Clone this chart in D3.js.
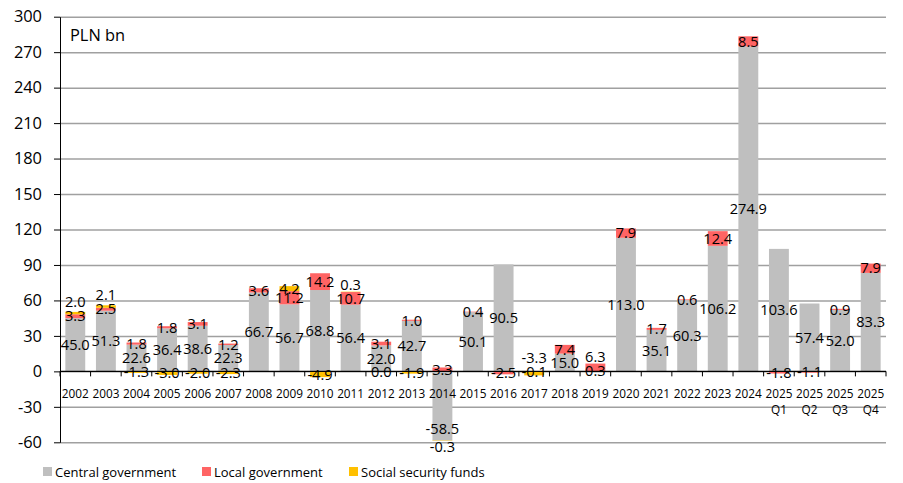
<!DOCTYPE html>
<html>
  <head>
    <meta charset="utf-8">
    <title>General government balance by subsector</title>
    <script src="https://d3js.org/d3.v7.min.js"></script>
    <style>
      body { margin: 0; background: #fff; }
      svg { display: block; font-family: "Open Sans", Lato, sans-serif; }
      .grid line { stroke: #a0a0a0; stroke-width: 1.5; }
      .grid path { display: none; }
      .yaxis path, .yaxis line { stroke: #000; }
      .yaxis text { font-size: 16.4px; fill: #000; font-family: "Open Sans", sans-serif; }
      .xlabel { font-size: 11.8px; fill: #000; }
      .value { font-size: 14.6px; fill: #000; }
      .legend text { font-size: 13px; fill: #000; }
    </style>
  </head>
  <body>
    <svg id="chart" width="903" height="483"></svg>
    <script>
      // data (PLN bn)
      const categories = ["2002", "2003", "2004", "2005", "2006", "2007", "2008", "2009", "2010", "2011",
        "2012", "2013", "2014", "2015", "2016", "2017", "2018", "2019", "2020", "2021", "2022", "2023",
        "2024", "2025 Q1", "2025 Q2", "2025 Q3", "2025 Q4"];
      const central = [45.0, 51.3, 22.6, 36.4, 38.6, 22.3, 66.7, 56.7, 68.8, 56.4,
        22.0, 42.7, -58.5, 50.1, 90.5, -0.1, 15.0, 0.3, 113.0, 35.1, 60.3, 106.2,
        274.9, 103.6, 57.4, 52.0, 83.3];
      const local = [3.3, 2.5, 1.8, 1.8, 3.1, 1.2, 3.6, 11.2, 14.2, 10.7,
        3.1, 1.0, 3.3, 0.4, -2.5, null, 7.4, 6.3, 7.9, 1.7, 0.6, 12.4,
        8.5, -1.8, -1.1, 0.9, 7.9];
      const social = [2.0, 2.1, -1.3, -3.0, -2.0, -2.3, null, 4.2, -4.9, 0.3,
        0.0, -1.9, -0.3, null, null, -3.3, null, null, null, null, null, null,
        null, null, null, null, null];
      const seriesNames = ["Central government", "Local government", "Social security funds"];
      const seriesColours = ["#bfbfbf", "#ff6464", "#ffc000"];
      const yTicks = [-60, -30, 0, 30, 60, 90, 120, 150, 180, 210, 240, 270, 300];

      const series = [central, local, social];
      const svg = d3.select("#chart");
      const plotLeft = 60, plotRight = 886, plotTop = 16.7, plotBottom = 442.3;

      // scales
      const x = d3.scaleBand()
        .domain(categories)
        .range([plotLeft, plotRight])
        .paddingInner(0.35)
        .paddingOuter(0.175);
      const y = d3.scaleLinear()
        .domain([yTicks[0], yTicks[yTicks.length - 1]])
        .range([plotBottom, plotTop]);
      const catLabelY = y(0) + 27;

      // gridlines
      svg.append("g")
        .attr("class", "grid")
        .attr("transform", "translate(" + plotLeft + ",0)")
        .call(d3.axisLeft(y).tickValues(yTicks).tickSize(-(plotRight - plotLeft)).tickFormat(""));

      // stack: positives upward, zero and negatives downward (as the spreadsheet does)
      const segments = [];
      categories.forEach(function(cat, i) {
        let pos = 0, neg = 0;
        const placed = [];
        series.forEach(function(values, s) {
          const v = values[i];
          if (v === null) return;
          let y0, y1;
          const isNeg = !(v > 0);
          if (!isNeg) { y0 = pos; y1 = pos + v; pos = y1; }
          else { y0 = neg; y1 = neg + v; neg = y1; }
          let ly = y((y0 + y1) / 2);
          // keep deep negative labels off the category labels
          if (ly > catLabelY - 16 && ly < catLabelY + 16) ly = catLabelY + 30;
          // move a label clear of one it would sit on
          let moved = true;
          while (moved) {
            moved = false;
            placed.forEach(function(p) {
              const both = isNeg && p.neg;
              if (Math.abs(ly - p.y) < (both ? 14 : 8)) {
                ly = both && ly > p.y + 4 ? p.y + 18 : p.y - 14;
                moved = true;
              }
            });
          }
          placed.push({ y: ly, neg: isNeg });
          segments.push({ cat: cat, s: s, v: v, y0: y0, y1: y1, ly: ly });
        });
      });

      // bars
      svg.append("g")
        .selectAll("rect")
        .data(segments)
        .enter().append("rect")
          .attr("x", function(d) { return x(d.cat); })
          .attr("width", x.bandwidth())
          .attr("y", function(d) { return Math.min(y(d.y0), y(d.y1)); })
          .attr("height", function(d) { return Math.abs(y(d.y0) - y(d.y1)); })
          .attr("fill", function(d) { return seriesColours[d.s]; });

      // zero line with category separators
      const gap = (x.step() - x.bandwidth()) / 2;
      const bounds = categories.map(function(c) { return x(c) - gap; }).concat([plotRight]);
      const zero = svg.append("g");
      zero.append("line")
        .attr("x1", plotLeft).attr("x2", plotRight)
        .attr("y1", y(0)).attr("y2", y(0))
        .attr("stroke", "#000")
        .attr("stroke-width", 1.3);
      zero.selectAll(".sep")
        .data(bounds)
        .enter().append("line")
          .attr("x1", function(d) { return d; })
          .attr("x2", function(d) { return d; })
          .attr("y1", y(0)).attr("y2", y(0) + 5)
          .attr("stroke", "#000");

      // y axis
      svg.append("g")
        .attr("class", "yaxis")
        .attr("transform", "translate(" + plotLeft + ",0)")
        .call(d3.axisLeft(y).tickValues(yTicks).tickSize(6).tickSizeOuter(0).tickPadding(12)
          .tickFormat(function(d) { return String(d); }));

      // category labels, second line for the quarters
      const xl = svg.append("g")
        .selectAll("text")
        .data(categories)
        .enter().append("text")
          .attr("class", "xlabel")
          .attr("text-anchor", "middle")
          .attr("y", catLabelY);
      xl.selectAll("tspan")
        .data(function(d) { return d.split(" ").map(function(t) { return { t: t, c: d }; }); })
        .enter().append("tspan")
          .attr("x", function(d) { return x(d.c) + x.bandwidth() / 2; })
          .attr("dy", function(d, j) { return j ? 16 : 0; })
          .text(function(d) { return d.t; });

      // value labels
      svg.append("g")
        .selectAll("text")
        .data(segments)
        .enter().append("text")
          .attr("class", "value")
          .attr("text-anchor", "middle")
          .attr("x", function(d) { return x(d.cat) + x.bandwidth() / 2; })
          .attr("y", function(d) { return d.ly; })
          .attr("dy", "0.36em")
          .text(function(d) { return d.v.toFixed(1); });

      // unit
      svg.append("text")
        .attr("x", 70).attr("y", 41)
        .attr("font-size", "16.4px")
        .text("PLN bn");

      // legend
      const legendX = [43, 202, 349];
      const legend = svg.append("g")
        .attr("class", "legend")
        .selectAll("g")
        .data(seriesNames)
        .enter().append("g")
          .attr("transform", function(d, i) { return "translate(" + legendX[i] + ",467)"; });
      legend.append("rect")
        .attr("width", 9).attr("height", 9)
        .attr("fill", function(d, i) { return seriesColours[i]; });
      legend.append("text")
        .attr("x", 12).attr("y", 9.5)
        .text(function(d) { return d; });
    </script>
  </body>
</html>
